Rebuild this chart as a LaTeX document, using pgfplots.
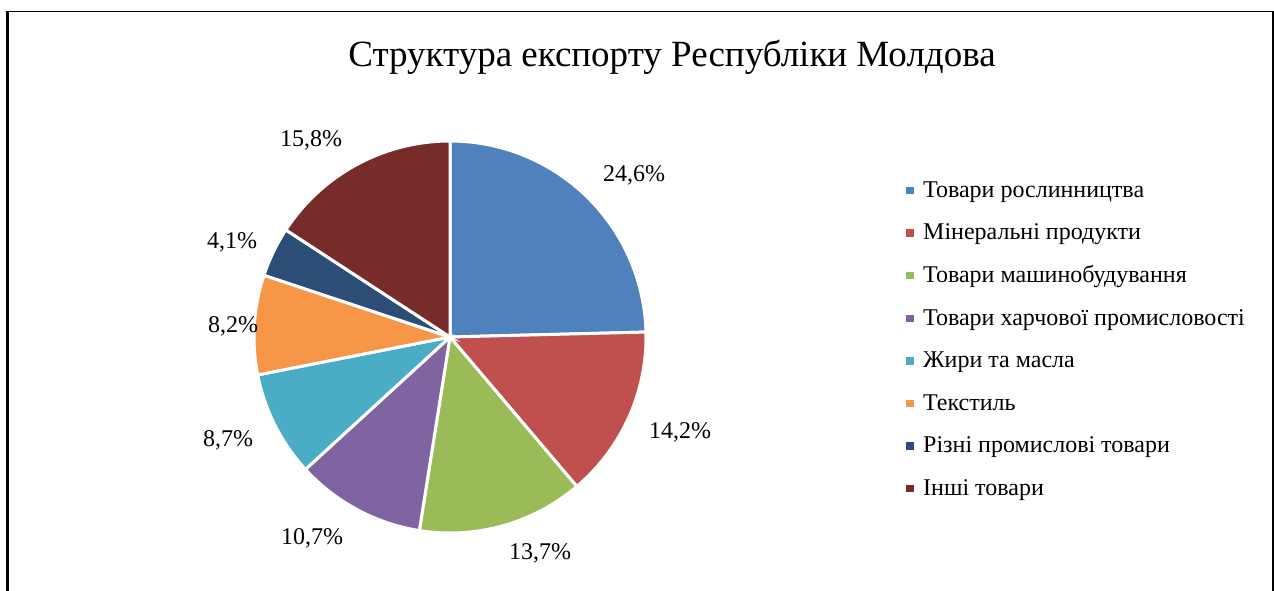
\documentclass[border=0pt]{standalone}
\usepackage{fontspec}
\setmainfont{Liberation Serif}
\usepackage{pgfplots}
\pgfplotsset{compat=1.18}
\definecolor{c1}{HTML}{4F81BD}
\definecolor{c2}{HTML}{C0504D}
\definecolor{c3}{HTML}{9BBB59}
\definecolor{c4}{HTML}{8064A2}
\definecolor{c5}{HTML}{4BACC6}
\definecolor{c6}{HTML}{F79646}
\definecolor{c7}{HTML}{2C4D75}
\definecolor{c8}{HTML}{772C2A}
\begin{document}
\begin{tikzpicture}
% shares, %
\def\vA{24.6}\def\vB{14.2}\def\vC{13.7}\def\vD{10.7}
\def\vE{8.7}\def\vF{8.2}\def\vG{4.1}\def\vH{15.8}
\pgfmathsetmacro\aA{90}
\pgfmathsetmacro\aB{\aA-3.6*\vA}
\pgfmathsetmacro\aC{\aB-3.6*\vB}
\pgfmathsetmacro\aD{\aC-3.6*\vC}
\pgfmathsetmacro\aE{\aD-3.6*\vD}
\pgfmathsetmacro\aF{\aE-3.6*\vE}
\pgfmathsetmacro\aG{\aF-3.6*\vF}
\pgfmathsetmacro\aH{\aG-3.6*\vG}
\pgfmathsetmacro\aI{\aH-3.6*\vH}
\def\cx{450}\def\cy{253}\def\R{196}
\begin{axis}[
  width=1274pt, height=590pt, scale only axis,
  xmin=0, xmax=1274, ymin=0, ymax=590,
  hide axis, clip=false,
  legend style={draw=none, fill=none, inner sep=0pt,
    at={(axis cs:906,411)}, anchor=north west,
    row sep=19.6pt,
    font=\fontsize{24}{28}\selectfont,
    nodes={inner sep=0pt, text height=18pt, text depth=5pt}},
  legend cell align=left,
  legend image code/.code={\path[draw=none,fill=none] (0pt,0pt) -- (17pt,0pt);
    \fill[#1, draw=none] (0pt,-3.5pt) rectangle (7.5pt,4pt);},
]
\addplot[fill=c1, draw=white, line width=3pt, domain=\aB:\aA, samples=100, forget plot]
  ({\cx+\R*cos(x)},{\cy+\R*sin(x)}) -- (axis cs:\cx,\cy) -- cycle;
\addplot[fill=c2, draw=white, line width=3pt, domain=\aC:\aB, samples=100, forget plot]
  ({\cx+\R*cos(x)},{\cy+\R*sin(x)}) -- (axis cs:\cx,\cy) -- cycle;
\addplot[fill=c3, draw=white, line width=3pt, domain=\aD:\aC, samples=100, forget plot]
  ({\cx+\R*cos(x)},{\cy+\R*sin(x)}) -- (axis cs:\cx,\cy) -- cycle;
\addplot[fill=c4, draw=white, line width=3pt, domain=\aE:\aD, samples=100, forget plot]
  ({\cx+\R*cos(x)},{\cy+\R*sin(x)}) -- (axis cs:\cx,\cy) -- cycle;
\addplot[fill=c5, draw=white, line width=3pt, domain=\aF:\aE, samples=100, forget plot]
  ({\cx+\R*cos(x)},{\cy+\R*sin(x)}) -- (axis cs:\cx,\cy) -- cycle;
\addplot[fill=c6, draw=white, line width=3pt, domain=\aG:\aF, samples=100, forget plot]
  ({\cx+\R*cos(x)},{\cy+\R*sin(x)}) -- (axis cs:\cx,\cy) -- cycle;
\addplot[fill=c7, draw=white, line width=3pt, domain=\aH:\aG, samples=100, forget plot]
  ({\cx+\R*cos(x)},{\cy+\R*sin(x)}) -- (axis cs:\cx,\cy) -- cycle;
\addplot[fill=c8, draw=white, line width=3pt, domain=\aI:\aH, samples=100, forget plot]
  ({\cx+\R*cos(x)},{\cy+\R*sin(x)}) -- (axis cs:\cx,\cy) -- cycle;

\addlegendimage{fill=c1}\addlegendentry{Товари рослинництва}
\addlegendimage{fill=c2}\addlegendentry{Мінеральні продукти}
\addlegendimage{fill=c3}\addlegendentry{Товари машинобудування}
\addlegendimage{fill=c4}\addlegendentry{Товари харчової промисловості}
\addlegendimage{fill=c5}\addlegendentry{Жири та масла}
\addlegendimage{fill=c6}\addlegendentry{Текстиль}
\addlegendimage{fill=c7}\addlegendentry{Різні промислові товари}
\addlegendimage{fill=c8}\addlegendentry{Інші товари}

\begin{scope}[every node/.style={font=\fontsize{24}{28}\selectfont, inner sep=0pt}]
\node at (axis cs:634,415) {24,6\%};
\node at (axis cs:680,158) {14,2\%};
\node at (axis cs:540,37) {13,7\%};
\node at (axis cs:312,52) {10,7\%};
\node at (axis cs:228,150) {8,7\%};
\node at (axis cs:233,264) {8,2\%};
\node at (axis cs:232,348) {4,1\%};
\node at (axis cs:311,450) {15,8\%};
\end{scope}
\node[anchor=base, inner sep=0pt, font=\fontsize{37}{44}\selectfont] at (axis cs:672,523)
  {Структура експорту Республіки Молдова};
\draw[line width=1.3pt] (axis cs:7.5,578.5) -- (axis cs:1272.5,578.5);
\draw[line width=2.2pt] (axis cs:7.5,-10) -- (axis cs:7.5,579.1);
\draw[line width=2pt] (axis cs:1272.5,-10) -- (axis cs:1272.5,579.1);
\end{axis}
\pgfresetboundingbox
\path[use as bounding box] (0,0) rectangle (1274pt,590pt);
\end{tikzpicture}
\end{document}
